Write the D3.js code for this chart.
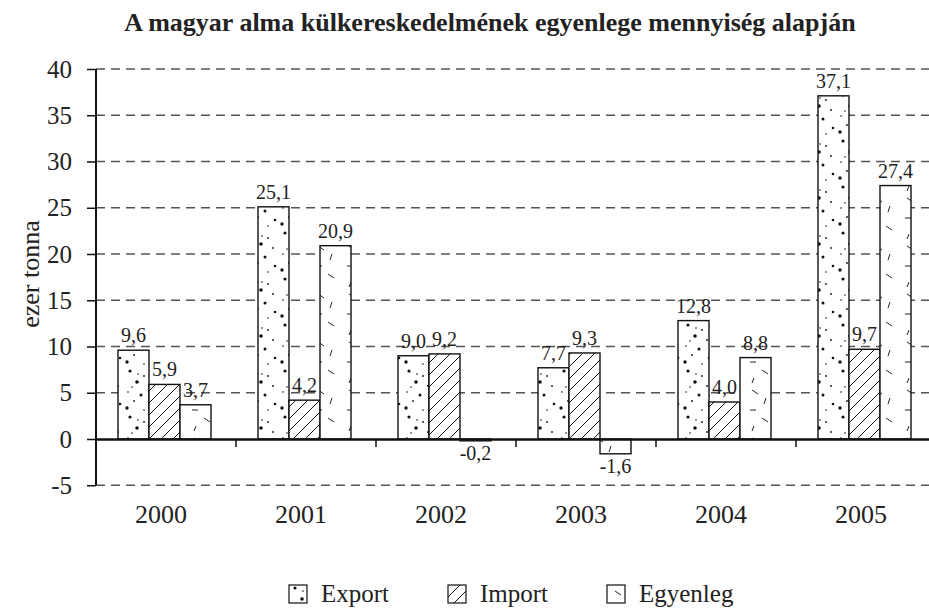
<!DOCTYPE html>
<html>
<head>
<meta charset="utf-8">
<script src="https://cdn.jsdelivr.net/npm/d3@7"></script>
<style>
  body { margin: 0; background: #fff; }
  text { font-family: 'Liberation Serif', 'Times New Roman', Times, 'DejaVu Serif', serif; }
</style>
</head>
<body>
<div id="chart"></div>
<script>
// Data
const years = ["2000", "2001", "2002", "2003", "2004", "2005"];
const exportValues = [9.6, 25.1, 9.0, 7.7, 12.8, 37.1];
const importValues = [5.9, 4.2, 9.2, 9.3, 4.0, 9.7];
const balanceValues = [3.7, 20.9, -0.2, -1.6, 8.8, 27.4];
const seriesNames = ["Export", "Import", "Egyenleg"];
const yTicks = [-5, 0, 5, 10, 15, 20, 25, 30, 35, 40];

const width = 929, height = 610;
const margin = { top: 69, left: 96 };
const FONT = "'Liberation Serif', 'Times New Roman', Times, serif";

const svg = d3.select('#chart')
    .append('svg')
    .attr('width', width)
    .attr('height', height)
    .attr('font-family', FONT);

// Patterns
const defs = svg.append('defs');

const dots = defs.append('pattern')
    .attr('id', 'pat-export')
    .attr('patternUnits', 'userSpaceOnUse')
    .attr('width', 31).attr('height', 46);
dots.append('rect').attr('width', 31).attr('height', 46).attr('fill', '#fff');
[[6, 3, 1.6], [20, 8, 0.9], [13, 14, 1.8], [25, 18, 0.9], [4, 24, 0.8],
 [17, 27, 1.5], [10, 33, 0.9], [27, 36, 1.3], [3, 40, 1.7], [20, 42, 0.8],
 [14, 6, 0.8], [8, 19, 0.8]].forEach(d => {
    dots.append('circle').attr('cx', d[0]).attr('cy', d[1]).attr('r', d[2]).attr('fill', '#111');
});

const hatch = defs.append('pattern')
    .attr('id', 'pat-import')
    .attr('patternUnits', 'userSpaceOnUse')
    .attr('width', 12).attr('height', 12);
hatch.append('rect').attr('width', 12).attr('height', 12).attr('fill', '#fff');
hatch.append('path')
    .attr('d', 'M0,12 L12,0 M-3,3 L3,-3 M9,15 L15,9')
    .attr('stroke', '#111').attr('stroke-width', 1);

const dash = defs.append('pattern')
    .attr('id', 'pat-balance')
    .attr('patternUnits', 'userSpaceOnUse')
    .attr('width', 31).attr('height', 48);
dash.append('rect').attr('width', 31).attr('height', 48).attr('fill', '#fff');
dash.append('path')
    .attr('d', 'M8,6 L14,10 M22,14 L20,20 M6,26 L12,26 M18,34 L24,38 M10,42 L8,47')
    .attr('stroke', '#222').attr('stroke-width', 1);

const patterns = ['url(#pat-export)', 'url(#pat-import)', 'url(#pat-balance)'];

// Scales
const x = d3.scaleBand()
    .domain(years)
    .range([margin.left, margin.left + 140 * years.length]);

const y = d3.scaleLinear()
    .domain([-5, 40])
    .range([485.25, 69]);

const sub = d3.scaleBand()
    .domain(seriesNames)
    .range([22, 115]);

// Grid lines
svg.append('g')
    .selectAll('line')
    .data(yTicks.filter(t => t !== 0))
    .join('line')
    .attr('x1', margin.left)
    .attr('x2', width)
    .attr('y1', d => y(d))
    .attr('y2', d => y(d))
    .attr('stroke', '#555')
    .attr('stroke-width', 1.4)
    .attr('stroke-dasharray', '9,6');

// Title
svg.append('text')
    .attr('x', 490)
    .attr('y', 31)
    .attr('text-anchor', 'middle')
    .attr('font-weight', 'bold')
    .attr('font-size', 26)
    .attr('fill', '#222')
    .text('A magyar alma külkereskedelmének egyenlege mennyiség alapján');

// Bars
const rows = years.map((yr, i) => [
    { year: yr, s: 0, v: exportValues[i] },
    { year: yr, s: 1, v: importValues[i] },
    { year: yr, s: 2, v: balanceValues[i] }
]);

const group = svg.append('g')
    .selectAll('g')
    .data(rows)
    .join('g');

group.selectAll('rect')
    .data(d => d)
    .join('rect')
    .attr('x', d => x(d.year) + sub(seriesNames[d.s]))
    .attr('y', d => y(Math.max(0, d.v)))
    .attr('width', sub.bandwidth())
    .attr('height', d => Math.abs(y(d.v) - y(0)))
    .attr('fill', d => patterns[d.s])
    .attr('stroke', '#111')
    .attr('stroke-width', 1.4);

group.selectAll('text')
    .data(d => d)
    .join('text')
    .attr('x', d => x(d.year) + sub(seriesNames[d.s]) + sub.bandwidth() / 2)
    .attr('y', d => d.v >= 0 ? y(d.v) - 8 : y(d.v) + 19)
    .attr('text-anchor', 'middle')
    .attr('font-size', 20)
    .attr('fill', '#222')
    .text(d => d3.format('.1f')(d.v).replace('.', ',').replace('−', '-'));

// Y axis
const yAxis = svg.append('g')
    .attr('transform', `translate(${margin.left},0)`)
    .call(d3.axisLeft(y).tickValues(yTicks).tickSize(9).tickPadding(15))
    .attr('font-family', FONT);
yAxis.select('.domain').attr('stroke', '#111').attr('stroke-width', 2).attr('d', `M0,${y(-5)}V${y(40)}`);
yAxis.selectAll('.tick line').attr('stroke', '#111').attr('stroke-width', 1.5);
yAxis.selectAll('.tick text')
    .attr('font-size', 25)
    .attr('fill', '#222')
    .text(d => String(d).replace('−', '-'));

// X axis at zero
const xAxis = svg.append('g')
    .attr('transform', `translate(0,${y(0)})`)
    .call(d3.axisBottom(x).tickSize(0).tickFormat(''));
xAxis.select('.domain').attr('stroke', '#111').attr('stroke-width', 2.5);
xAxis.selectAll('.tick').remove();

svg.append('g')
    .selectAll('line')
    .data(years.slice(1))
    .join('line')
    .attr('x1', d => x(d))
    .attr('x2', d => x(d))
    .attr('y1', y(0))
    .attr('y2', y(0) + 8)
    .attr('stroke', '#111')
    .attr('stroke-width', 1.5);

svg.append('g')
    .selectAll('text')
    .data(years)
    .join('text')
    .attr('x', d => x(d) + x.bandwidth() / 2 - 5)
    .attr('y', 523)
    .attr('text-anchor', 'middle')
    .attr('font-size', 26)
    .attr('fill', '#222')
    .text(d => d);

// Y axis title
svg.append('text')
    .attr('transform', 'translate(39,274) rotate(-90)')
    .attr('text-anchor', 'middle')
    .attr('font-size', 26)
    .attr('fill', '#222')
    .text('ezer tonna');

// Legend
const legendX = [289, 448, 607];
const legend = svg.append('g')
    .selectAll('g')
    .data(seriesNames)
    .join('g')
    .attr('transform', (d, i) => `translate(${legendX[i]},585)`);

legend.append('rect')
    .attr('width', 18).attr('height', 18)
    .attr('fill', (d, i) => patterns[i])
    .attr('stroke', '#111')
    .attr('stroke-width', 1.2);

legend.append('text')
    .attr('x', 32)
    .attr('y', 17)
    .attr('font-size', 25)
    .attr('fill', '#222')
    .text(d => d);
</script>
</body>
</html>
